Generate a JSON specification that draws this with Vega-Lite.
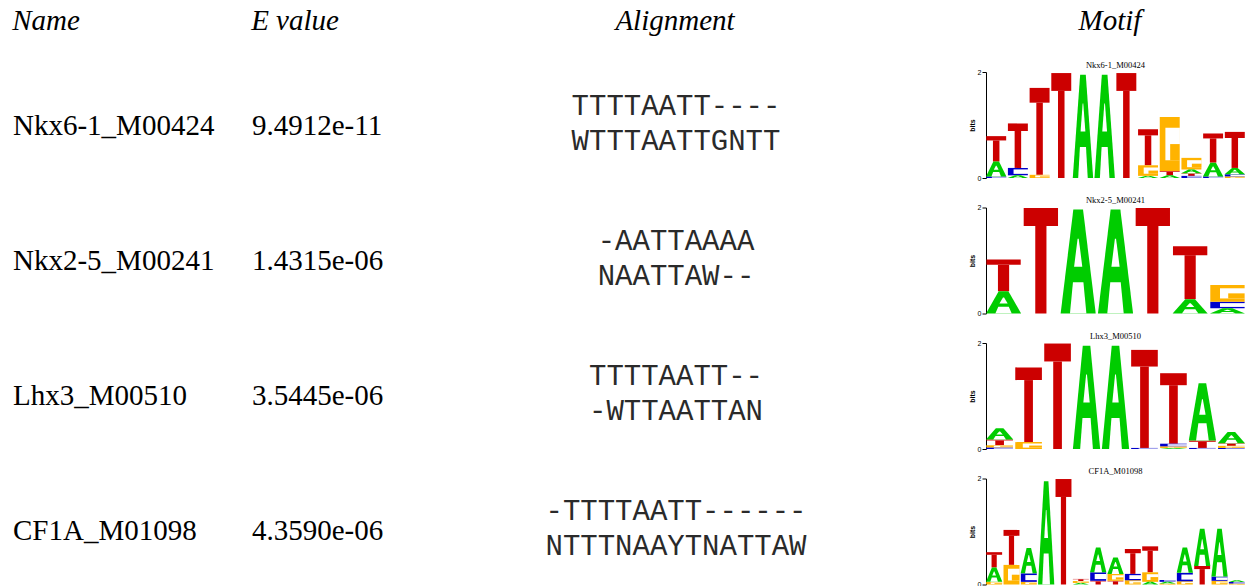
{
  "$schema": "https://vega.github.io/schema/vega-lite/v6.json",
  "padding": 0,
  "spacing": 0,
  "config": {
    "view": {"stroke": null},
    "axis": {"grid": false}
  },
  "datasets": {
    "headers": [
      {"h": "Name", "ci": 0},
      {"h": "E value", "ci": 1},
      {"h": "Alignment", "ci": 2},
      {"h": "Motif", "ci": 3}
    ],
    "table": [
      {"row": 1, "name": "Nkx6-1_M00424", "evalue": "9.4912e-11", "aln": "TTTTAATT----\nWTTTAATTGNTT"},
      {"row": 2, "name": "Nkx2-5_M00241", "evalue": "1.4315e-06", "aln": "-AATTAAAA\nNAATTAW--"},
      {"row": 3, "name": "Lhx3_M00510", "evalue": "3.5445e-06", "aln": "TTTTAATT--\n-WTTAATTAN"},
      {"row": 4, "name": "CF1A_M01098", "evalue": "4.3590e-06", "aln": "-TTTTAATT------\nNTTTNAAYTNATTAW"}
    ],
    "logo": [
      {"m": "Nkx6-1_M00424", "p": 1, "b": "C", "v": 0.03},
      {"m": "Nkx6-1_M00424", "p": 1, "b": "A", "v": 0.28},
      {"m": "Nkx6-1_M00424", "p": 1, "b": "T", "v": 0.48},
      {"m": "Nkx6-1_M00424", "p": 2, "b": "A", "v": 0.05},
      {"m": "Nkx6-1_M00424", "p": 2, "b": "C", "v": 0.14},
      {"m": "Nkx6-1_M00424", "p": 2, "b": "T", "v": 0.84},
      {"m": "Nkx6-1_M00424", "p": 3, "b": "G", "v": 0.06},
      {"m": "Nkx6-1_M00424", "p": 3, "b": "T", "v": 1.64},
      {"m": "Nkx6-1_M00424", "p": 4, "b": "T", "v": 1.98},
      {"m": "Nkx6-1_M00424", "p": 5, "b": "A", "v": 1.95},
      {"m": "Nkx6-1_M00424", "p": 6, "b": "A", "v": 1.95},
      {"m": "Nkx6-1_M00424", "p": 7, "b": "T", "v": 1.98},
      {"m": "Nkx6-1_M00424", "p": 8, "b": "A", "v": 0.04},
      {"m": "Nkx6-1_M00424", "p": 8, "b": "G", "v": 0.2},
      {"m": "Nkx6-1_M00424", "p": 8, "b": "T", "v": 0.68},
      {"m": "Nkx6-1_M00424", "p": 9, "b": "A", "v": 0.05},
      {"m": "Nkx6-1_M00424", "p": 9, "b": "T", "v": 0.08},
      {"m": "Nkx6-1_M00424", "p": 9, "b": "G", "v": 1.02},
      {"m": "Nkx6-1_M00424", "p": 10, "b": "C", "v": 0.04},
      {"m": "Nkx6-1_M00424", "p": 10, "b": "T", "v": 0.05},
      {"m": "Nkx6-1_M00424", "p": 10, "b": "A", "v": 0.07},
      {"m": "Nkx6-1_M00424", "p": 10, "b": "G", "v": 0.22},
      {"m": "Nkx6-1_M00424", "p": 11, "b": "C", "v": 0.03},
      {"m": "Nkx6-1_M00424", "p": 11, "b": "A", "v": 0.26},
      {"m": "Nkx6-1_M00424", "p": 11, "b": "T", "v": 0.55},
      {"m": "Nkx6-1_M00424", "p": 12, "b": "G", "v": 0.03},
      {"m": "Nkx6-1_M00424", "p": 12, "b": "C", "v": 0.04},
      {"m": "Nkx6-1_M00424", "p": 12, "b": "A", "v": 0.12},
      {"m": "Nkx6-1_M00424", "p": 12, "b": "T", "v": 0.68},

      {"m": "Nkx2-5_M00241", "p": 1, "b": "A", "v": 0.42},
      {"m": "Nkx2-5_M00241", "p": 1, "b": "T", "v": 0.6},
      {"m": "Nkx2-5_M00241", "p": 2, "b": "T", "v": 1.99},
      {"m": "Nkx2-5_M00241", "p": 3, "b": "A", "v": 1.96},
      {"m": "Nkx2-5_M00241", "p": 4, "b": "A", "v": 1.96},
      {"m": "Nkx2-5_M00241", "p": 5, "b": "T", "v": 1.99},
      {"m": "Nkx2-5_M00241", "p": 6, "b": "A", "v": 0.27},
      {"m": "Nkx2-5_M00241", "p": 6, "b": "T", "v": 1.0},
      {"m": "Nkx2-5_M00241", "p": 7, "b": "A", "v": 0.1},
      {"m": "Nkx2-5_M00241", "p": 7, "b": "C", "v": 0.12},
      {"m": "Nkx2-5_M00241", "p": 7, "b": "G", "v": 0.32},

      {"m": "Lhx3_M00510", "p": 1, "b": "C", "v": 0.03},
      {"m": "Lhx3_M00510", "p": 1, "b": "G", "v": 0.04},
      {"m": "Lhx3_M00510", "p": 1, "b": "T", "v": 0.11},
      {"m": "Lhx3_M00510", "p": 1, "b": "A", "v": 0.21},
      {"m": "Lhx3_M00510", "p": 2, "b": "G", "v": 0.13},
      {"m": "Lhx3_M00510", "p": 2, "b": "T", "v": 1.41},
      {"m": "Lhx3_M00510", "p": 3, "b": "T", "v": 1.99},
      {"m": "Lhx3_M00510", "p": 4, "b": "A", "v": 1.95},
      {"m": "Lhx3_M00510", "p": 5, "b": "A", "v": 1.95},
      {"m": "Lhx3_M00510", "p": 6, "b": "C", "v": 0.02},
      {"m": "Lhx3_M00510", "p": 6, "b": "T", "v": 1.85},
      {"m": "Lhx3_M00510", "p": 7, "b": "A", "v": 0.02},
      {"m": "Lhx3_M00510", "p": 7, "b": "G", "v": 0.03},
      {"m": "Lhx3_M00510", "p": 7, "b": "C", "v": 0.05},
      {"m": "Lhx3_M00510", "p": 7, "b": "T", "v": 1.33},
      {"m": "Lhx3_M00510", "p": 8, "b": "C", "v": 0.02},
      {"m": "Lhx3_M00510", "p": 8, "b": "T", "v": 0.14},
      {"m": "Lhx3_M00510", "p": 8, "b": "A", "v": 1.08},
      {"m": "Lhx3_M00510", "p": 9, "b": "C", "v": 0.02},
      {"m": "Lhx3_M00510", "p": 9, "b": "G", "v": 0.04},
      {"m": "Lhx3_M00510", "p": 9, "b": "T", "v": 0.05},
      {"m": "Lhx3_M00510", "p": 9, "b": "A", "v": 0.21},

      {"m": "CF1A_M01098", "p": 1, "b": "G", "v": 0.05},
      {"m": "CF1A_M01098", "p": 1, "b": "A", "v": 0.27},
      {"m": "CF1A_M01098", "p": 1, "b": "T", "v": 0.29},
      {"m": "CF1A_M01098", "p": 2, "b": "G", "v": 0.37},
      {"m": "CF1A_M01098", "p": 2, "b": "T", "v": 0.66},
      {"m": "CF1A_M01098", "p": 3, "b": "G", "v": 0.05},
      {"m": "CF1A_M01098", "p": 3, "b": "C", "v": 0.16},
      {"m": "CF1A_M01098", "p": 3, "b": "A", "v": 0.48},
      {"m": "CF1A_M01098", "p": 4, "b": "A", "v": 1.95},
      {"m": "CF1A_M01098", "p": 5, "b": "T", "v": 1.99},
      {"m": "CF1A_M01098", "p": 6, "b": "A", "v": 0.03},
      {"m": "CF1A_M01098", "p": 6, "b": "G", "v": 0.035},
      {"m": "CF1A_M01098", "p": 6, "b": "T", "v": 0.04},
      {"m": "CF1A_M01098", "p": 7, "b": "T", "v": 0.07},
      {"m": "CF1A_M01098", "p": 7, "b": "C", "v": 0.16},
      {"m": "CF1A_M01098", "p": 7, "b": "A", "v": 0.47},
      {"m": "CF1A_M01098", "p": 8, "b": "T", "v": 0.07},
      {"m": "CF1A_M01098", "p": 8, "b": "G", "v": 0.13},
      {"m": "CF1A_M01098", "p": 8, "b": "A", "v": 0.31},
      {"m": "CF1A_M01098", "p": 9, "b": "G", "v": 0.08},
      {"m": "CF1A_M01098", "p": 9, "b": "C", "v": 0.12},
      {"m": "CF1A_M01098", "p": 9, "b": "T", "v": 0.47},
      {"m": "CF1A_M01098", "p": 10, "b": "A", "v": 0.05},
      {"m": "CF1A_M01098", "p": 10, "b": "G", "v": 0.18},
      {"m": "CF1A_M01098", "p": 10, "b": "T", "v": 0.49},
      {"m": "CF1A_M01098", "p": 11, "b": "G", "v": 0.02},
      {"m": "CF1A_M01098", "p": 11, "b": "A", "v": 0.03},
      {"m": "CF1A_M01098", "p": 11, "b": "C", "v": 0.035},
      {"m": "CF1A_M01098", "p": 12, "b": "G", "v": 0.06},
      {"m": "CF1A_M01098", "p": 12, "b": "C", "v": 0.16},
      {"m": "CF1A_M01098", "p": 12, "b": "A", "v": 0.48},
      {"m": "CF1A_M01098", "p": 13, "b": "T", "v": 0.35},
      {"m": "CF1A_M01098", "p": 13, "b": "A", "v": 0.7},
      {"m": "CF1A_M01098", "p": 14, "b": "G", "v": 0.07},
      {"m": "CF1A_M01098", "p": 14, "b": "C", "v": 0.08},
      {"m": "CF1A_M01098", "p": 14, "b": "A", "v": 0.9},
      {"m": "CF1A_M01098", "p": 15, "b": "G", "v": 0.02},
      {"m": "CF1A_M01098", "p": 15, "b": "C", "v": 0.025},
      {"m": "CF1A_M01098", "p": 15, "b": "A", "v": 0.035}
    ]
  },
  "vconcat": [
    {
      "width": 1257,
      "height": 60,
      "data": {"name": "headers"},
      "mark": {"type": "text", "font": "Liberation Serif", "fontSize": 29, "fontStyle": "italic", "align": "center", "baseline": "alphabetic", "color": "#000"},
      "encoding": {
        "x": {"field": "ci", "type": "quantitative", "scale": {"domain": [0, 1, 2, 3], "range": [46, 295, 675, 1110], "nice": false, "zero": false}, "axis": null},
        "text": {"field": "h", "type": "nominal"}
      }
    },
    {
      "spacing": 10,
      "hconcat": [
        {
          "width": 958,
          "height": 525,
          "data": {"name": "table"},
          "encoding": {
            "y": {"field": "row", "type": "quantitative", "scale": {"domain": [0.6, 4.489], "reverse": true, "nice": false, "zero": false}, "axis": null}
          },
          "layer": [
            {
              "mark": {"type": "text", "font": "Liberation Serif", "fontSize": 29, "align": "left", "baseline": "middle", "color": "#000"},
              "encoding": {
                "x": {"datum": 0, "type": "quantitative", "scale": {"domain": [0, 1, 2], "range": [13, 252, 676], "nice": false, "zero": false}, "axis": null},
                "text": {"field": "name", "type": "nominal"}
              }
            },
            {
              "mark": {"type": "text", "font": "Liberation Serif", "fontSize": 29, "align": "left", "baseline": "middle", "color": "#000"},
              "encoding": {
                "x": {"datum": 1, "type": "quantitative", "scale": {"domain": [0, 1, 2], "range": [13, 252, 676], "nice": false, "zero": false}, "axis": null},
                "text": {"field": "evalue", "type": "nominal"}
              }
            },
            {
              "mark": {"type": "text", "font": "Courier New, Courier, FreeMono, Nimbus Mono PS, Liberation Mono, monospace", "fontSize": 29, "align": "center", "baseline": "middle", "lineBreak": "\n", "lineHeight": 35, "dy": -20, "color": "#2a2a2a"},
              "encoding": {
                "x": {"datum": 2, "type": "quantitative", "scale": {"domain": [0, 1, 2], "range": [13, 252, 676], "nice": false, "zero": false}, "axis": null},
                "text": {"field": "aln", "type": "nominal"}
              }
            }
          ]
        },
        {
          "data": {"name": "logo"},
          "transform": [
            {"stack": "v", "groupby": ["m", "p"], "sort": [{"field": "v", "order": "ascending"}], "as": ["y0", "y1"]},
            {"calculate": "datum.y1 - datum.y0", "as": "h"},
            {"calculate": "datum.p - 0.46", "as": "xl"},
            {"calculate": "datum.p + 0.46", "as": "xr"},
            {"calculate": "datum.y1 - 0.17 * datum.h", "as": "yc"},
            {"calculate": "datum.p - 0.15", "as": "sl"},
            {"calculate": "datum.p + 0.15", "as": "sr"},
            {"calculate": "datum.p - 0.2", "as": "il"},
            {"calculate": "datum.p + 0.47", "as": "ir"},
            {"calculate": "datum.y0 + 0.2 * datum.h", "as": "iy0"},
            {"calculate": "datum.y1 - 0.2 * datum.h", "as": "iy1"},
            {"calculate": "datum.p + 0.02", "as": "gl"},
            {"calculate": "datum.y0 + 0.5 * datum.h", "as": "gy1"}
          ],
          "facet": {
            "field": "m",
            "type": "nominal",
            "sort": ["Nkx6-1_M00424", "Nkx2-5_M00241", "Lhx3_M00510", "CF1A_M01098"],
            "header": {"title": null, "labelFont": "Liberation Serif", "labelFontSize": 8.5, "labelPadding": 3, "labelColor": "#000"}
          },
          "columns": 1,
          "spacing": 17.5,
          "resolve": {"scale": {"x": "independent"}},
          "spec": {
            "width": 259,
            "height": 106,
            "layer": [
              {
                "transform": [{"filter": "datum.b === 'T'"}],
                "mark": {"type": "rect", "color": "#cc0000"},
                "encoding": {
                  "x": {"field": "xl", "type": "quantitative", "scale": {"zero": false, "nice": false}, "axis": null},
                  "x2": {"field": "xr"},
                  "y": {"field": "yc", "type": "quantitative", "scale": {"domain": [0, 2]}, "title": "bits",
                        "axis": {"values": [0, 1, 2], "format": "d", "tickSize": 4, "labelFont": "Liberation Sans", "labelFontSize": 7, "labelPadding": 1, "titleFont": "Liberation Sans", "titleFontSize": 7, "titleFontWeight": "bold", "titlePadding": 2, "domainColor": "#000", "tickColor": "#000", "labelColor": "#000", "titleColor": "#000"}},
                  "y2": {"field": "y1"}
                }
              },
              {
                "transform": [{"filter": "datum.b === 'T'"}],
                "mark": {"type": "rect", "color": "#cc0000"},
                "encoding": {
                  "x": {"field": "sl", "type": "quantitative", "scale": {"zero": false, "nice": false}, "axis": null},
                  "x2": {"field": "sr"},
                  "y": {"field": "y0", "type": "quantitative", "scale": {"domain": [0, 2]}, "title": "bits"},
                  "y2": {"field": "yc"}
                }
              },
              {
                "transform": [{"filter": "datum.b === 'C' || datum.b === 'G'"}],
                "mark": {"type": "rect"},
                "encoding": {
                  "x": {"field": "xl", "type": "quantitative", "scale": {"zero": false, "nice": false}, "axis": null},
                  "x2": {"field": "xr"},
                  "y": {"field": "y0", "type": "quantitative", "scale": {"domain": [0, 2]}, "title": "bits"},
                  "y2": {"field": "y1"},
                  "color": {"field": "b", "type": "nominal", "scale": {"domain": ["A", "C", "G", "T"], "range": ["#00cc00", "#0000cc", "#ffb300", "#cc0000"]}, "legend": null}
                }
              },
              {
                "transform": [{"filter": "datum.b === 'C' || datum.b === 'G'"}],
                "mark": {"type": "rect", "color": "#ffffff"},
                "encoding": {
                  "x": {"field": "il", "type": "quantitative", "scale": {"zero": false, "nice": false}, "axis": null},
                  "x2": {"field": "ir"},
                  "y": {"field": "iy0", "type": "quantitative", "scale": {"domain": [0, 2]}, "title": "bits"},
                  "y2": {"field": "iy1"}
                }
              },
              {
                "transform": [{"filter": "datum.b === 'G'"}],
                "mark": {"type": "rect", "color": "#ffb300"},
                "encoding": {
                  "x": {"field": "gl", "type": "quantitative", "scale": {"zero": false, "nice": false}, "axis": null},
                  "x2": {"field": "xr"},
                  "y": {"field": "iy0", "type": "quantitative", "scale": {"domain": [0, 2]}, "title": "bits"},
                  "y2": {"field": "gy1"}
                }
              },
              {
                "transform": [
                  {"filter": "datum.b === 'A'"},
                  {"fold": ["y0", "y1"], "as": ["k", "yy"]},
                  {"calculate": "datum.k === 'y1' ? 1 : 0", "as": "t"},
                  {"calculate": "datum.m + '_' + datum.p", "as": "id"},
                  {"calculate": "datum.p - (datum.t ? 0.13 : 0.47)", "as": "ox1"},
                  {"calculate": "datum.p + (datum.t ? 0.13 : 0.47)", "as": "ox2"},
                  {"calculate": "datum.y0 + (datum.t ? 0.3 : 0) * datum.h", "as": "ny"},
                  {"calculate": "datum.p - (datum.t ? 0.14 : 0.22)", "as": "nx1"},
                  {"calculate": "datum.p + (datum.t ? 0.14 : 0.22)", "as": "nx2"},
                  {"calculate": "datum.y0 + (datum.t ? 0.72 : 0.45) * datum.h", "as": "hy"},
                  {"calculate": "datum.p - (datum.t ? 0.015 : 0.11)", "as": "hx1"},
                  {"calculate": "datum.p + (datum.t ? 0.015 : 0.11)", "as": "hx2"}
                ],
                "layer": [
                  {
                    "mark": {"type": "area", "orient": "horizontal", "color": "#00cc00", "interpolate": "linear"},
                    "encoding": {
                      "y": {"field": "yy", "type": "quantitative", "scale": {"domain": [0, 2]}, "title": "bits"},
                      "x": {"field": "ox1", "type": "quantitative", "scale": {"zero": false, "nice": false}, "axis": null, "stack": null},
                      "x2": {"field": "ox2"},
                      "detail": {"field": "id", "type": "nominal"}
                    }
                  },
                  {
                    "mark": {"type": "area", "orient": "horizontal", "color": "#ffffff", "interpolate": "linear"},
                    "encoding": {
                      "y": {"field": "ny", "type": "quantitative", "scale": {"domain": [0, 2]}, "title": "bits"},
                      "x": {"field": "nx1", "type": "quantitative", "scale": {"zero": false, "nice": false}, "axis": null, "stack": null},
                      "x2": {"field": "nx2"},
                      "detail": {"field": "id", "type": "nominal"}
                    }
                  },
                  {
                    "mark": {"type": "area", "orient": "horizontal", "color": "#ffffff", "interpolate": "linear"},
                    "encoding": {
                      "y": {"field": "hy", "type": "quantitative", "scale": {"domain": [0, 2]}, "title": "bits"},
                      "x": {"field": "hx1", "type": "quantitative", "scale": {"zero": false, "nice": false}, "axis": null, "stack": null},
                      "x2": {"field": "hx2"},
                      "detail": {"field": "id", "type": "nominal"}
                    }
                  }
                ]
              }
            ]
          }
        }
      ]
    }
  ]
}
